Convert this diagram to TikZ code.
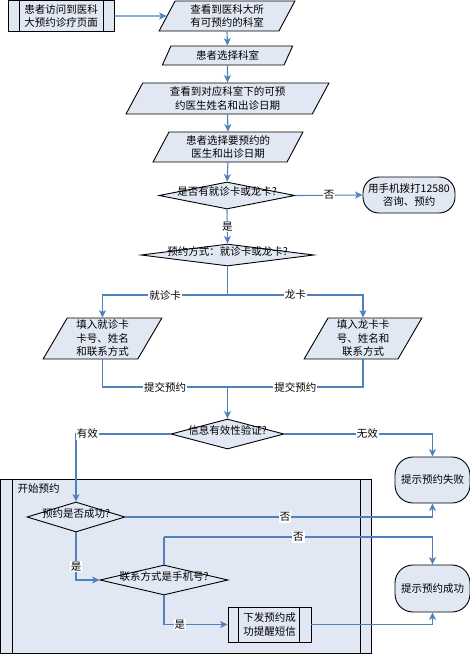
\documentclass[tikz,border=0pt]{standalone}
\usepackage{fontspec}
\setmainfont{Noto Sans CJK SC}
\usetikzlibrary{shapes.geometric,shapes.misc,arrows.meta}
\definecolor{lineblue}{HTML}{4F81BD}
\definecolor{fillblue}{HTML}{E1E8F4}
\newcommand{\dtext}[1]{\smash{\makebox[0pt]{#1}}}
\begin{document}
\begin{tikzpicture}[x=1pt,y=-1pt,
  every node/.style={font=\fontsize{10.5}{13.5}\selectfont, align=center},
  shp/.style={draw=black, line width=0.9pt, fill=fillblue, inner sep=0pt},
  para/.style={shp, trapezium, trapezium left angle=64, trapezium right angle=116, trapezium stretches=true},
  dia/.style={shp, diamond},
  term/.style={shp, rectangle, rounded corners=16pt},
  proc/.style={shp, rectangle},
  conn/.style={draw=lineblue, line width=1.1pt},
  arr/.style={conn, -{Stealth[length=7.5pt,width=7pt,inset=2pt]}},
  lbl/.style={fill=white, inner sep=1pt},
  inner/.style={draw=black, line width=0.9pt}
]
\fill[white] (0,0) rectangle (470,654);
\useasboundingbox (0,0) rectangle (470,654);

% container
\node[proc, minimum width=370.5pt, minimum height=174pt] (cont) at (185.75,566.5) {};
\draw[inner] ([xshift=12pt]cont.north west) -- ([xshift=12pt]cont.south west);
\draw[inner] ([xshift=-11pt]cont.north east) -- ([xshift=-11pt]cont.south east);
\node[anchor=west] (contlbl) at (14,489) {开始预约};

% top chain
\node[proc, minimum width=106pt, minimum height=30.5pt] (b1) at (61,16) {患者访问到医科\\大预约诊疗页面};
\draw[inner] ([xshift=12pt]b1.north west) -- ([xshift=12pt]b1.south west);
\draw[inner] ([xshift=-11pt]b1.north east) -- ([xshift=-11pt]b1.south east);

\node[para, minimum width=136pt, minimum height=30pt] (p1) at (227,16) {查看到医科大所\\有可预约的科室};
\node[para, minimum width=131pt, minimum height=19pt] (p2) at (227.5,55.5) {患者选择科室};
\node[para, minimum width=203pt, minimum height=31pt] (p3) at (227.5,98.5) {查看到对应科室下的可预\\约医生姓名和出诊日期};
\node[para, minimum width=150pt, minimum height=30pt] (p4) at (228,147) {患者选择要预约的\\医生和出诊日期};

\node[dia, minimum width=136pt, minimum height=27pt] (d1) at (227,195.5) {\dtext{是否有就诊卡或龙卡?}};
\node[term, minimum width=92pt, minimum height=36pt] (t1) at (409,195) {用手机拨打12580\\咨询、预约};
\node[dia, minimum width=173pt, minimum height=22pt] (d2) at (227.5,255) {\dtext{预约方式：就诊卡或龙卡?}};

\node[para, minimum width=119pt, minimum height=41pt] (pL) at (102.5,338.5) {填入就诊卡\\卡号、姓名\\和联系方式};
\node[para, minimum width=118pt, minimum height=41pt] (pR) at (363,338.5) {填入龙卡卡\\号、姓名和\\联系方式};

\node[dia, minimum width=113pt, minimum height=30pt] (d3) at (227.5,434) {\dtext{信息有效性验证?}};
\node[term, minimum width=75pt, minimum height=46pt, rounded corners=18pt] (fail) at (432.5,480) {提示预约失败};
\node[dia, minimum width=98pt, minimum height=30pt] (d4) at (76,517) {\dtext{预约是否成功?}};
\node[dia, minimum width=128pt, minimum height=30pt] (d5) at (164,580) {\dtext{联系方式是手机号?}};
\node[term, minimum width=75pt, minimum height=47pt, rounded corners=18pt] (succ) at (432.5,588.5) {提示预约成功};
\node[proc, minimum width=83pt, minimum height=35pt] (sms) at (269.5,624.5) {下发预约成\\功提醒短信};
\draw[inner] ([xshift=11pt]sms.north west) -- ([xshift=11pt]sms.south west);
\draw[inner] ([xshift=-12pt]sms.north east) -- ([xshift=-12pt]sms.south east);

% connectors
\draw[arr] (b1.east) -- (p1.west);
\draw[arr] (p1.south) -- (p2.north);
\draw[arr] (p2.south) -- (p3.north);
\draw[arr] (p3.south) -- (p4.north);
\draw[arr] (p4.south) -- (d1.north);
\draw[arr] (d1.east) -- node[lbl]{否} (t1.west);
\draw[arr] (d1.south) -- node[lbl]{是} (d2.north);
\coordinate (br) at (227.5,295);
\draw[conn] (d2.south) -- (br);
\draw[arr] (br) -| node[lbl,pos=0.25]{就诊卡} (pL.north);
\draw[arr] (br) -| node[lbl,pos=0.25]{龙卡} (pR.north);
\coordinate (mg) at (227.5,387);
\draw[conn] (pL.south) |- node[lbl,pos=0.75]{提交预约} (mg);
\draw[conn] (pR.south) |- node[lbl,pos=0.75]{提交预约} (mg);
\draw[arr] (mg) -- (d3.north);
\draw[arr] (d3.west) -| node[lbl,pos=0.44]{有效} (d4.north);
\draw[arr] (d3.east) -| node[lbl,pos=0.28]{无效} (fail.north);
\draw[arr] (d4.east) -| node[lbl,pos=0.26]{否} (fail.south);
\draw[arr] (d4.south) |- node[lbl,pos=0.36]{是} (d5.west);
\coordinate (up) at (164,537);
\draw[conn] (d5.north) -- (up);
\draw[arr] (up) -| node[lbl,pos=0.25]{否} (succ.north);
\draw[arr] (d5.south) |- node[lbl,pos=0.625]{是} (sms.west);
\draw[arr] (sms.east) -| (succ.south);
\end{tikzpicture}
\end{document}
